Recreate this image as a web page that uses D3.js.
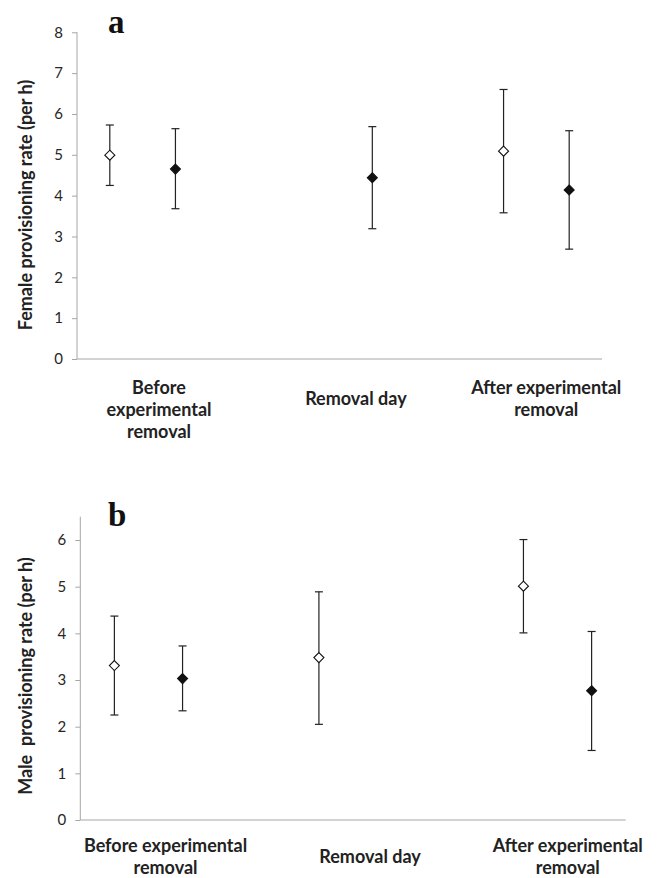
<!DOCTYPE html>
<html>
<head>
<meta charset="utf-8">
<script src="https://cdn.jsdelivr.net/npm/d3@7"></script>
<style>
  body { margin: 0; background: #fff; }
  svg { display: block; }
  text { font-family: Lato, "Open Sans", sans-serif; }
</style>
</head>
<body>
<svg id="chart"></svg>
<script>
"use strict";

// panel a: female provisioning
var femaleX = [1, 2, 5, 7, 8];
var femaleMean = [4.99, 4.65, 4.44, 5.09, 4.14];
var femaleLow = [4.25, 3.68, 3.19, 3.58, 2.69];
var femaleHigh = [5.73, 5.64, 5.69, 6.60, 5.59];
var femaleKind = ["open", "filled", "filled", "open", "filled"];

// panel b: male provisioning
var maleX = [1, 2, 4, 7, 8];
var maleMean = [3.31, 3.03, 3.48, 5.01, 2.77];
var maleLow = [2.25, 2.34, 2.05, 4.01, 1.49];
var maleHigh = [4.37, 3.73, 4.89, 6.01, 4.04];
var maleKind = ["open", "filled", "open", "open", "filled"];

var labelX = [1.75, 4.75, 7.65];
var labelsA = [["Before", "experimental", "removal"], ["Removal day"], ["After experimental", "removal"]];
var labelsB = [["Before experimental", "removal"], ["Removal day"], ["After experimental", "removal"]];

var ticksA = [0, 1, 2, 3, 4, 5, 6, 7, 8];
var ticksB = [0, 1, 2, 3, 4, 5, 6];

var width = 657, height = 878;
var svg = d3.select("#chart").attr("width", width).attr("height", height);

function rows(xs, mean, lo, hi, kind) {
    return xs.map((x, i) => ({x: x, m: mean[i], lo: lo[i], hi: hi[i], kind: kind[i]}));
}

function drawPanel(opt) {
    var x = d3.scaleLinear().domain([0.5, 8.5]).range([opt.left, opt.right]);
    var y = d3.scaleLinear().domain([0, opt.yMax]).range([opt.bottom, opt.top]);
    var g = svg.append("g");

    // y axis
    var yAxis = d3.axisLeft(y).tickValues(opt.ticks).tickSize(5).tickPadding(9).tickFormat(d3.format("d"));
    var ya = g.append("g").attr("transform", "translate(" + opt.left + ",0)").call(yAxis);
    ya.attr("font-family", null).attr("font-size", null);
    ya.select(".domain").attr("stroke", "#a6a6a6").attr("d", "M0," + y(opt.yMax) + "V" + y(0));
    ya.selectAll(".tick line").attr("stroke", "#a6a6a6");
    ya.selectAll(".tick text").attr("fill", "#262626").style("font-size", "15px");

    // x axis line
    g.append("line")
        .attr("x1", opt.left).attr("x2", opt.right)
        .attr("y1", y(0)).attr("y2", y(0))
        .attr("stroke", "#a6a6a6");

    // y label
    g.append("text")
        .attr("transform", "translate(" + opt.titleX + "," + opt.titleY + ") rotate(-90)")
        .attr("text-anchor", "middle")
        .attr("dominant-baseline", "central")
        .style("font-size", "18px").style("font-weight", "bold").attr("fill", "#222")
        .style("white-space", "pre")
        .text(opt.title);

    // panel letter
    g.append("text")
        .attr("x", opt.letterX).attr("y", opt.letterY)
        .style("font-family", "'Liberation Serif', 'DejaVu Serif', serif")
        .style("font-size", "33px").style("font-weight", "bold").attr("fill", "#111")
        .text(opt.letter);

    // category labels
    opt.labels.forEach(function (lines, i) {
        var t = g.append("text")
            .attr("text-anchor", "middle")
            .style("font-size", "18px").style("font-weight", "bold").attr("fill", "#222");
        var y0 = lines.length == 1 ? opt.labelTop + 11 : opt.labelTop;
        lines.forEach(function (s, j) {
            t.append("tspan").attr("x", x(labelX[i])).attr("y", y0 + j * 22)
                .attr("dominant-baseline", "central").text(s);
        });
    });

    // error bars
    var bars = g.selectAll(".err").data(opt.data).enter().append("g").attr("class", "err");
    bars.append("line")
        .attr("x1", d => x(d.x)).attr("x2", d => x(d.x))
        .attr("y1", d => y(d.lo)).attr("y2", d => y(d.hi))
        .attr("stroke", "#222").attr("stroke-width", 1.2);
    bars.selectAll(".cap").data(d => [[d.x, d.lo], [d.x, d.hi]]).enter().append("line")
        .attr("x1", d => x(d[0]) - 4).attr("x2", d => x(d[0]) + 4)
        .attr("y1", d => y(d[1])).attr("y2", d => y(d[1]))
        .attr("stroke", "#222").attr("stroke-width", 1.2);

    // diamonds
    var sym = d3.symbol().type(d3.symbolDiamond2).size(64);
    g.selectAll(".pt").data(opt.data).enter().append("path")
        .attr("d", sym)
        .attr("transform", d => "translate(" + x(d.x) + "," + y(d.m) + ")")
        .attr("fill", d => d.kind == "open" ? "#fff" : "#111")
        .attr("stroke", "#111").attr("stroke-width", 1.1);
}

drawPanel({
    data: rows(femaleX, femaleMean, femaleLow, femaleHigh, femaleKind),
    left: 77, right: 602, top: 32.3, bottom: 359, yMax: 8, ticks: ticksA,
    title: "Female provisioning rate (per h)", titleX: 25, titleY: 205,
    letter: "a", letterX: 108, letterY: 33,
    labels: labelsA, labelTop: 386.5
});

drawPanel({
    data: rows(maleX, maleMean, maleLow, maleHigh, maleKind),
    left: 80.3, right: 625.7, top: 516.7, bottom: 820, yMax: 6.5, ticks: ticksB,
    title: "Male  provisioning rate (per h)", titleX: 25, titleY: 676,
    letter: "b", letterX: 108, letterY: 526,
    labels: labelsB, labelTop: 845
});
</script>
</body>
</html>
